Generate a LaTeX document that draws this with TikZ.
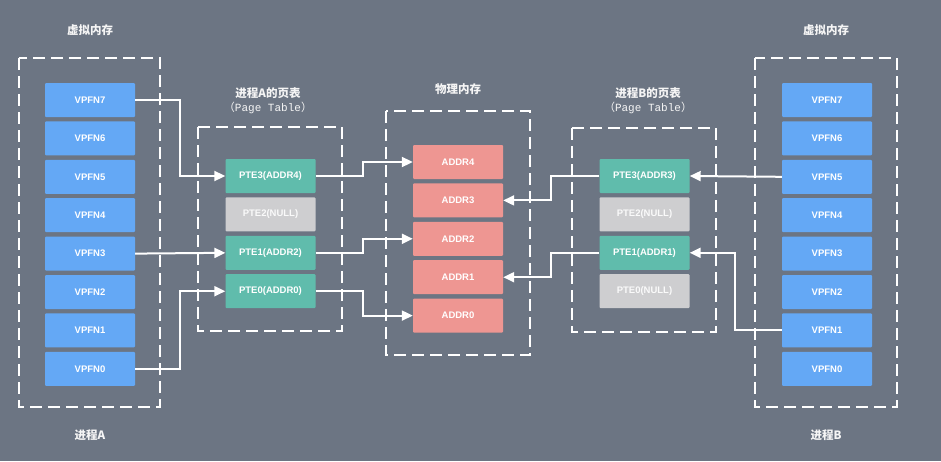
\documentclass[tikz,border=0pt]{standalone}
\usepackage{fontspec}
\setmainfont{Liberation Sans}
\setmonofont{Liberation Mono}
\newfontfamily\cjk{Noto Sans CJK SC}
\usetikzlibrary{arrows.meta, positioning}
\definecolor{bgslate}{RGB}{108,117,131}
\definecolor{vpfnblue}{RGB}{100,168,245}
\definecolor{pteteal}{RGB}{96,188,172}
\definecolor{nullgray}{RGB}{206,206,208}
\definecolor{addrred}{RGB}{238,150,146}

\begin{document}
\begin{tikzpicture}[x=1pt, y=-1pt, every node/.style={text=white, inner sep=0pt}]
    \tikzset{cell/.style={minimum width=90pt, minimum height=34pt, rounded corners=1pt, font=\bfseries\fontsize{9.5}{11}\selectfont},
      vpfn/.style={cell, fill=vpfnblue},
      pte/.style={cell, fill=pteteal},
      nullpte/.style={cell, fill=nullgray, text=white!96!gray},
      addr/.style={cell, fill=addrred},
      frame/.style={draw=white, line width=2.5pt, dash pattern=on 12pt off 6pt},
      link/.style={draw=white, line width=2pt, -{Triangle[length=11pt, width=10pt]}},
      title/.style={font=\cjk\bfseries\fontsize{11.5}{13}\selectfont, text=white!92!gray},
      subtitle/.style={font=\fontsize{11}{13}\selectfont, text=white!92!gray}}
    \fill[bgslate] (0,0) rectangle (941,461);
    \useasboundingbox (0,0) rectangle (941,461);

    % process A, virtual memory
    \node[vpfn] (a7) at (90,100) {VPFN7};
    \foreach \i [remember=\i as \j (initially 7)] in {6,5,...,0}
      \node[vpfn, below=4pt of a\j] (a\i) {VPFN\i};
    \draw[frame] (19,58) rectangle (160,407);
    \node[title] (virtA) at (90,30) {虚拟内存};
    \node[title] (procA) at (90,435) {进程A};

    % page table of A
    \node[pte] (pa3) at (270.5,176) {PTE3(ADDR4)};
    \node[nullpte, below=4pt of pa3] (pa2) {PTE2(NULL)};
    \node[pte, below=4pt of pa2] (pa1) {PTE1(ADDR2)};
    \node[pte, below=4pt of pa1] (pa0) {PTE0(ADDR0)};
    \draw[frame] (198,127) rectangle (342,331);
    \node[title] (tabA) at (268,93) {进程A的页表};
    \node[subtitle] (tabAsub) at (268,108) {{\cjk （}\ttfamily Page Table{\cjk ）}};

    % physical memory
    \node[addr] (m4) at (458,162) {ADDR4};
    \foreach \i [remember=\i as \j (initially 4)] in {3,2,...,0}
      \node[addr, below=4pt of m\j] (m\i) {ADDR\i};
    \draw[frame] (386,111) rectangle (530,355);
    \node[title] (phys) at (458,89) {物理内存};

    % page table of B
    \node[pte] (pb3) at (644.5,176) {PTE3(ADDR3)};
    \node[nullpte, below=4pt of pb3] (pb2) {PTE2(NULL)};
    \node[pte, below=4pt of pb2] (pb1) {PTE1(ADDR1)};
    \node[nullpte, below=4pt of pb1] (pb0) {PTE0(NULL)};
    \draw[frame] (572,128) rectangle (716,332);
    \node[title] (tabB) at (648,93) {进程B的页表};
    \node[subtitle] (tabBsub) at (648,108) {{\cjk （}\ttfamily Page Table{\cjk ）}};

    % process B, virtual memory
    \node[vpfn] (b7) at (827,100) {VPFN7};
    \foreach \i [remember=\i as \j (initially 7)] in {6,5,...,0}
      \node[vpfn, below=4pt of b\j] (b\i) {VPFN\i};
    \draw[frame] (755,58) rectangle (897,407);
    \node[title] (virtB) at (826,30) {虚拟内存};
    \node[title] (procB) at (826,435) {进程B};

    % mappings
    \draw[link] (a7.east) -- ++(45,0) |- (pa3.west);
    \draw[link] (a3.east) -- (pa1.west);
    \draw[link] (a0.east) -- ++(45,0) |- (pa0.west);
    \draw[link] (pa3.east) -- ++(47,0) |- (m4.west);
    \draw[link] (pa1.east) -- ++(47,0) |- (m2.west);
    \draw[link] (pa0.east) -- ++(47,0) |- (m0.west);
    \draw[link] (pb3.west) -- ++(-48,0) |- (m3.east);
    \draw[link] (pb1.west) -- ++(-48,0) |- (m1.east);
    \draw[link] (b5.west) -- (pb3.east);
    \draw[link] (b1.west) -- ++(-47,0) |- (pb1.east);
  \end{tikzpicture}
\end{document}
